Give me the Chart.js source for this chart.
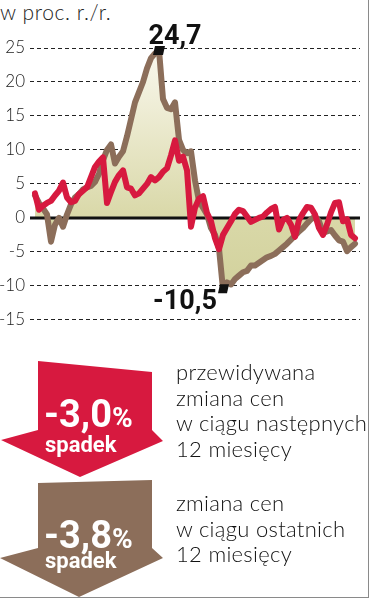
<!DOCTYPE html>
<html>
<head>
<meta charset="utf-8">
<script src="https://cdn.jsdelivr.net/npm/chart.js@4.4.1/dist/chart.umd.min.js"></script>
<style>
  body { margin: 0; background: #fff; }
  #wrap { position: relative; width: 368px; height: 597px; border-right: 1px solid #8a8a8a; border-bottom: 1px solid #8a8a8a; overflow: hidden; }
  #unit { position: absolute; left: 0px; top: -1px; font: 300 21px Lato, sans-serif; letter-spacing: 0.6px; color: #222; }
  #c { position: absolute; left: 0; top: 0; }
  svg { position: absolute; left: 0; top: 0; }
  .big { position: absolute; color: #fff; font-family: Roboto, sans-serif; font-weight: bold; line-height: 1; white-space: nowrap; }
  .desc { position: absolute; left: 176px; font: 300 22px Lato, sans-serif; letter-spacing: 0.3px; color: #111; line-height: 25.5px; white-space: nowrap; }
</style>
</head>
<body>
<div id="wrap">
  <div id="unit">w proc. r./r.</div>
  <canvas id="c" width="369" height="335"></canvas>
  <svg width="369" height="598">
    <polygon points="38,361 152,372 152,430 163,441 80,477 1,440 38,430" fill="#d7193f"/>
    <polygon points="38,483 152,480 152,548 163,558 79,597 0,558 38,548" fill="#8c6e5a"/>
  </svg>
  <div class="big" style="left:44px; top:395px; font-size:38px;">-3,0<span style="font-size:28px">%</span></div>
  <div class="big" style="left:45px; top:434px; font-size:22px;">spadek</div>
  <div class="big" style="left:44px; top:516px; font-size:38px;">-3,8<span style="font-size:28px">%</span></div>
  <div class="big" style="left:45px; top:550px; font-size:22px;">spadek</div>
  <div class="desc" style="top:359px;">przewidywana<br>zmiana cen<br>w ciągu następnych<br>12 miesięcy</div>
  <div class="desc" style="top:490px;">zmiana cen<br>w ciągu ostatnich<br>12 miesięcy</div>
</div>
<script>
// monthly change, % y/y
var recent = [3.3, 2.2, 1.4, 0.5, -3.5, -1.0, 0.0, -1.3, 0.5, 2.0,
  3.0, 3.5, 4.2, 4.5, 4.7, 5.3, 6.5, 8.5, 10.0, 10.8,
  8.0, 9.0, 9.8, 12.0, 14.5, 17.0, 18.5, 20.0, 22.0, 23.5,
  24.2, 24.7, 17.5, 16.2, 16.0, 17.0, 11.5, 10.0, 9.5, 9.8,
  5.5, 2.5, 1.5, 0.5, -1.5, -2.5, -4.5, -10.5, -9.5, -9.8,
  -9.0, -8.5, -8.0, -7.8, -7.0, -7.0, -6.6, -6.2, -5.8, -5.6,
  -5.3, -4.8, -4.3, -3.8, -3.2, -2.6, -2.0, -1.5, -0.8, -0.2,
  0.2, -0.5, -2.2, -2.0, -1.8, -2.6, -3.3, -3.5, -4.9, -4.3, -3.8];

var expected = [3.6, 1.2, 1.8, 2.2, 2.5, 3.3, 4.0, 5.2, 3.0, 2.3,
  2.5, 3.5, 4.0, 4.5, 6.0, 7.5, 8.3, 8.9, 2.2, 3.8,
  5.3, 6.3, 7.0, 4.5, 4.3, 3.3, 3.6, 4.3, 5.0, 6.0,
  5.5, 6.0, 6.8, 7.3, 9.2, 11.4, 8.4, 9.0, 7.0, -1.3,
  1.5, 2.8, 3.2, 0.7, -0.5, -3.0, -4.6, -2.5, -1.5, -0.5,
  0.6, 1.2, 1.0, 0.2, -0.6, -0.3, 0.0, 0.2, 0.8, 1.3,
  1.6, -1.7, -0.3, 0.0, -1.0, -2.8, -0.3, 0.7, 1.6, 1.5,
  0.5, -1.5, -2.5, -1.0, 0.8, 2.2, 2.3, -0.5, -0.2, -2.5, -3.0];

var yTicks = [25, 20, 15, 10, 5, 0, -5, -10, -15];
var extremeLabels = ['24,7', '-10,5'];

function pts(arr) {
  return arr.map(function (v, i) { return { x: i, y: v }; });
}

var peakIdx = recent.indexOf(Math.max.apply(null, recent));
var lowIdx = recent.indexOf(Math.min.apply(null, recent));

var extras = {
  id: 'extras',
  beforeDatasetDraw: function (chart, args) {
    if (args.index !== 0) return;
    var c = chart.ctx, a = chart.chartArea, y0 = chart.scales.y.getPixelForValue(0);
    c.save();
    c.strokeStyle = '#111';
    c.lineWidth = 3;
    c.beginPath();
    c.moveTo(a.left, y0);
    c.lineTo(a.right, y0);
    c.stroke();
    c.restore();
  },
  afterDatasetsDraw: function (chart) {
    var c = chart.ctx, xs = chart.scales.x, ys = chart.scales.y;
    var px = xs.getPixelForValue(peakIdx), py = ys.getPixelForValue(recent[peakIdx]);
    var lx = xs.getPixelForValue(lowIdx), ly = ys.getPixelForValue(recent[lowIdx]);
    c.save();
    c.fillStyle = '#111';
    c.beginPath();
    c.moveTo(px - 4, py - 4); c.lineTo(px + 6, py - 4); c.lineTo(px + 4, py + 5); c.lineTo(px - 6, py + 5);
    c.fill();
    c.beginPath();
    c.moveTo(lx - 3, ly - 5); c.lineTo(lx + 6, ly - 5); c.lineTo(lx + 4, ly + 4); c.lineTo(lx - 5, ly + 4);
    c.fill();
    c.font = 'bold 27px Roboto, sans-serif';
    c.textAlign = 'center';
    c.textBaseline = 'alphabetic';
    c.fillText(extremeLabels[0], px + 16, py - 6);
    c.fillText(extremeLabels[1], lx - 38, ly + 20);
    c.restore();
  }
};

new Chart(document.getElementById('c'), {
  type: 'line',
  data: {
    datasets: [
      {
        label: 'zmiana cen w ciągu ostatnich 12 miesięcy',
        data: pts(recent),
        borderColor: '#8c6e5a',
        borderWidth: 6,
        fill: 'origin',
        backgroundColor: function (ctx) {
          var chart = ctx.chart, a = chart.chartArea;
          if (!a) return '#e3e2bb';
          var g = chart.ctx.createLinearGradient(0, a.top, 0, a.bottom);
          g.addColorStop(0, '#faf8ee');
          g.addColorStop(0.625, '#d9d8a8');
          g.addColorStop(1, '#cfcf98');
          return g;
        },
        order: 2
      },
      {
        label: 'przewidywana zmiana cen',
        data: pts(expected),
        borderColor: '#d7193f',
        borderWidth: 6,
        fill: false,
        order: 1
      }
    ]
  },
  options: {
    responsive: false,
    animation: false,
    layout: { padding: { top: 48, bottom: 14, right: 9, left: 0 } },
    elements: {
      point: { radius: 0 },
      line: { tension: 0, borderJoinStyle: 'round', borderCapStyle: 'round' }
    },
    plugins: { legend: { display: false }, tooltip: { enabled: false } },
    scales: {
      x: { type: 'linear', display: false, min: -1.25, max: recent.length - 1 + 1.25 },
      y: {
        min: -15, max: 25,
        afterFit: function (s) { s.width = 30; },
        afterBuildTicks: function (s) { s.ticks = yTicks.map(function (v) { return { value: v }; }); },
        ticks: {
          padding: 5,
          color: '#222',
          font: { family: 'Lato, sans-serif', size: 17, weight: '300' }
        },
        grid: { color: '#222', lineWidth: 1, drawTicks: false },
        border: { display: false, dash: [4, 3] }
      }
    }
  },
  plugins: [extras]
});
</script>
</body>
</html>
